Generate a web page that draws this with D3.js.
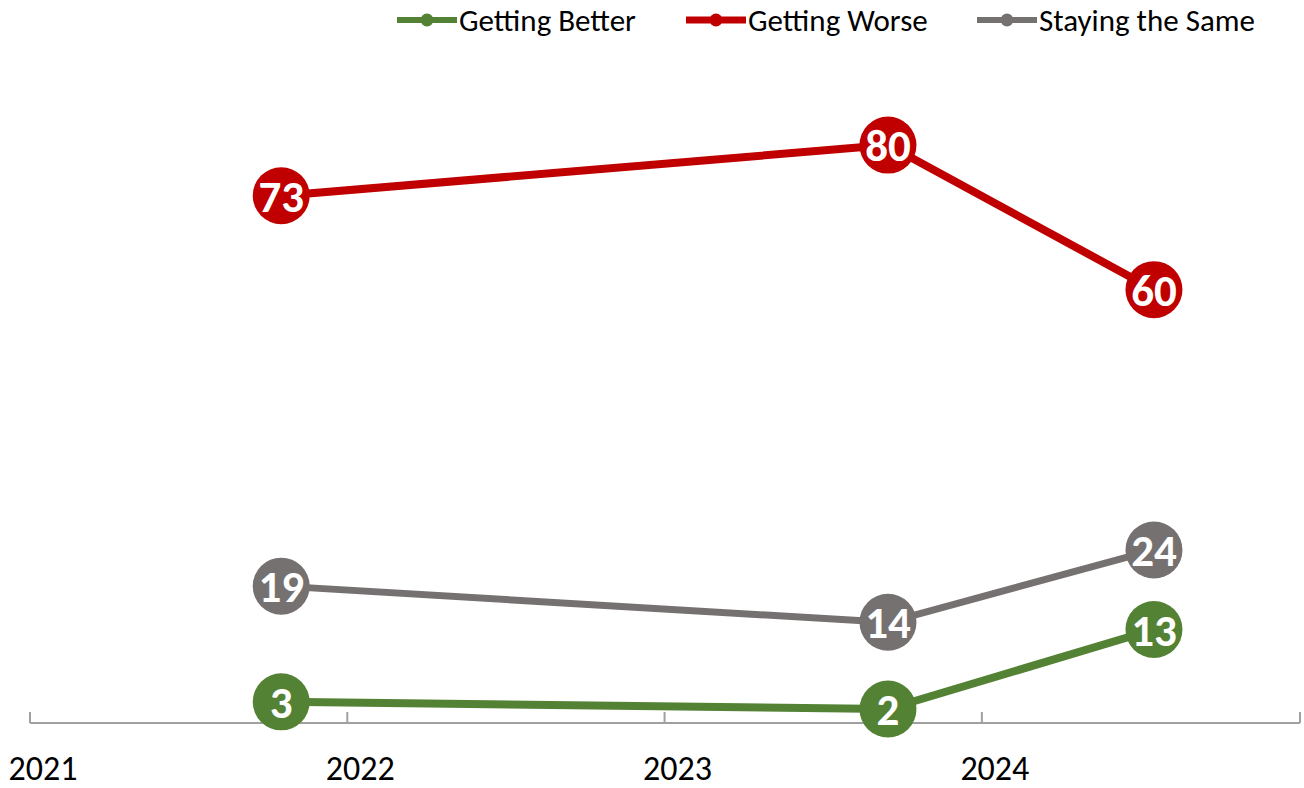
<!DOCTYPE html>
<html>
<head>
<meta charset="utf-8">
<script src="https://cdn.jsdelivr.net/npm/d3@7"></script>
<style>
  html, body { margin: 0; padding: 0; background: #fff; }
  svg { display: block; }
  text { font-family: Carlito, Lato, "Liberation Sans", Arial, sans-serif; }
</style>
</head>
<body>
<svg id="chart" width="1304" height="788"></svg>
<script>
// Survey waves (dates) and share of responses per answer
const waveDates = ["2021-10-17", "2023-09-15", "2024-07-17"];
const gettingBetter = [3, 2, 13];
const gettingWorse = [73, 80, 60];
const stayingSame = [19, 14, 24];
const yearTicks = ["2021", "2022", "2023", "2024", "2025"];
const seriesNames = ["Getting Better", "Getting Worse", "Staying the Same"];
const seriesColors = ["#548235", "#C00000", "#767171"];

const parse = d3.timeParse("%Y-%m-%d");
const parseYear = d3.timeParse("%Y");

const series = [
  { name: seriesNames[0], color: seriesColors[0], values: gettingBetter, width: 8 },
  { name: seriesNames[1], color: seriesColors[1], values: gettingWorse, width: 8 },
  { name: seriesNames[2], color: seriesColors[2], values: stayingSame, width: 7 }
];

const svg = d3.select("#chart");

const x = d3.scaleTime()
  .domain([parseYear(yearTicks[0]), parseYear(yearTicks[yearTicks.length - 1])])
  .range([30, 1300]);
const y = d3.scaleLinear().domain([0, 100]).range([723.5, 0.5]);

// Horizontal date axis with upward tick marks
const axisY = 723;
const axis = svg.append("g").attr("class", "x-axis");
axis.append("line")
  .attr("x1", x.range()[0]).attr("x2", x.range()[1])
  .attr("y1", axisY).attr("y2", axisY)
  .attr("stroke", "#A0A0A0").attr("stroke-width", 2);
const tickDates = yearTicks.map(parseYear);
axis.selectAll("line.tick")
  .data(tickDates)
  .join("line")
  .attr("class", "tick")
  .attr("x1", d => x(d)).attr("x2", d => x(d))
  .attr("y1", axisY - 11).attr("y2", axisY)
  .attr("stroke", "#A0A0A0").attr("stroke-width", 2);
axis.selectAll("text")
  .data(tickDates.slice(0, -1))
  .join("text")
  .attr("x", d => x(d) + 13)
  .attr("y", 780)
  .attr("text-anchor", "middle")
  .attr("font-size", 34)
  .attr("fill", "#000")
  .text(d => d3.timeFormat("%Y")(d));

const line = d3.line()
  .x((d, i) => x(parse(waveDates[i])))
  .y(d => y(d));

const groups = svg.selectAll("g.series")
  .data(series)
  .join("g")
  .attr("class", "series");

groups.append("path")
  .attr("d", s => line(s.values))
  .attr("fill", "none")
  .attr("stroke", s => s.color)
  .attr("stroke-width", s => s.width)
  .attr("stroke-linejoin", "round");

groups.each(function (s) {
  const g = d3.select(this);
  const pts = s.values.map((v, i) => ({ v, date: parse(waveDates[i]) }));
  g.selectAll("circle")
    .data(pts)
    .join("circle")
    .attr("cx", d => x(d.date))
    .attr("cy", d => y(d.v))
    .attr("r", 28.5)
    .attr("fill", s.color);
  g.selectAll("text")
    .data(pts)
    .join("text")
    .attr("x", d => x(d.date))
    .attr("y", d => y(d.v))
    .attr("dy", "0.36em")
    .attr("text-anchor", "middle")
    .attr("font-size", 45)
    .attr("font-weight", "bold")
    .attr("fill", "#fff")
    .text(d => d.v);
});

// Legend across the top
const legendX = [397, 686, 977];
const legend = svg.selectAll("g.legend")
  .data(series)
  .join("g")
  .attr("class", "legend")
  .attr("transform", (d, i) => `translate(${legendX[i]},20)`);
legend.append("line")
  .attr("x1", 0).attr("x2", 60)
  .attr("stroke", d => d.color)
  .attr("stroke-width", (d, i) => i === 1 ? 7 : 6);
legend.append("circle")
  .attr("cx", 30).attr("r", 6.5)
  .attr("fill", d => d.color);
legend.append("text")
  .attr("x", 62)
  .attr("dy", "0.35em")
  .attr("font-size", 31)
  .attr("fill", "#000")
  .text(d => d.name);
</script>
</body>
</html>
